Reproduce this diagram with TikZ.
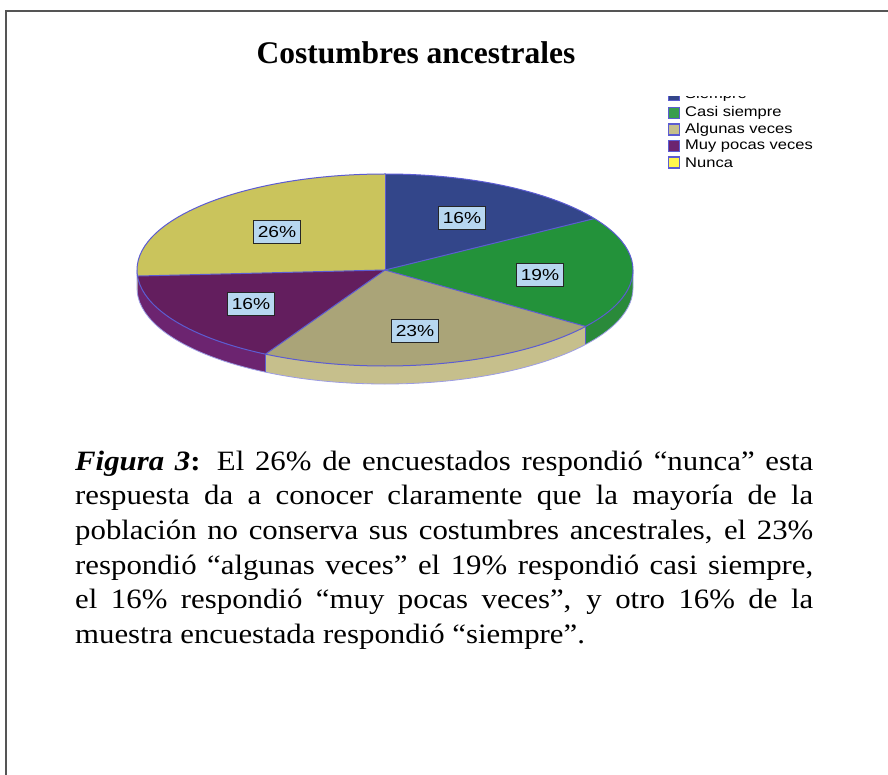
\documentclass[tikz,border=0pt]{standalone}
\usepackage{fontspec}
\setmainfont{Liberation Serif}
\newfontfamily\arialf{Liberation Sans}
\usetikzlibrary{calc}
\definecolor{cBlue}{HTML}{33468A}
\definecolor{cGreen}{HTML}{23923A}
\definecolor{cGreenS}{HTML}{2A8A3A}
\definecolor{cTan}{HTML}{AAA478}
\definecolor{cTanS}{HTML}{C6BF8C}
\definecolor{cPurple}{HTML}{631E5E}
\definecolor{cPurpleS}{HTML}{6C2470}
\definecolor{cYellow}{HTML}{CAC45C}
\definecolor{cYellowS}{HTML}{B8B250}
\definecolor{cEdge}{HTML}{5C5CD2}
\definecolor{cLabel}{HTML}{B7D7F0}
\definecolor{cFrame}{HTML}{555555}
\newcommand\capline[1]{\scalebox{1.1}[1]{\makebox[671pt][s]{#1}}}
\newcommand\pct[1]{\scalebox{1.2}[1]{#1}}
\newcommand\legt[1]{\scalebox{1.18}[1]{#1}}
\begin{document}
\begin{tikzpicture}[x=1pt,y=1pt,
  pctlabel/.style={draw=black!85,line width=1.3pt,fill=cLabel,font=\arialf\fontsize{16}{16}\selectfont,minimum width=47pt,minimum height=23pt,inner sep=0pt},
  legbox/.style={draw=cEdge,line width=1.1pt,minimum width=11pt,minimum height=11pt,inner sep=0pt},
  legtext/.style={anchor=west,font=\arialf\fontsize{14}{14}\selectfont,inner sep=0pt},
  capt/.style={anchor=base west,inner sep=0pt,font=\fontsize{28}{34}\selectfont},
  sliceedge/.style={draw=cEdge,line width=1pt}]
\useasboundingbox (0,0) rectangle (888,-775);
\fill[white] (0,0) rectangle (888,-775);
% frame
\draw[cFrame,line width=1.2pt] (888,-11) -- (6,-11) -- (6,-775);
% title
\node[anchor=base,inner sep=0pt,font=\bfseries\fontsize{31.5}{31.5}\selectfont] (title) at (416,-64) {Costumbres ancestrales};
% pie
\coordinate (C) at (385,-270);
% side bands
\foreach \a/\b/\c in {-180/-176.4/cYellowS, -176.4/-118.8/cPurpleS, -118.8/-36/cTanS, -36/0/cGreenS}{
  \fill[\c] ($(C)+(\a:248pt and 96pt)$) arc[start angle=\a,end angle=\b,x radius=248pt,y radius=96pt] -- ++(0,-18pt) arc[start angle=\b,end angle=\a,x radius=248pt,y radius=96pt] -- cycle;
}
\draw[cEdge!60,line width=0.8pt] ($(C)+(-180:248pt and 96pt)$) -- ++(0,-18pt) arc[start angle=-180,end angle=0,x radius=248pt,y radius=96pt] -- ++(0,18pt);
\draw[cEdge,line width=1pt] ($(C)+(-118.8:248pt and 96pt)$) -- ++(0,-18pt);
\draw[cEdge,line width=1pt] ($(C)+(-36:248pt and 96pt)$) -- ++(0,-18pt);
% top slices
\foreach \a/\b/\c in {32.4/90/cBlue, -36/32.4/cGreen, -118.8/-36/cTan, -176.4/-118.8/cPurple, 90/183.6/cYellow}{
  \fill[\c] (C) -- ($(C)+(\a:248pt and 96pt)$) arc[start angle=\a,end angle=\b,x radius=248pt,y radius=96pt] -- cycle;
}
\foreach \a in {90,32.4,-36,-118.8,-176.4}{
  \draw[sliceedge] (C) -- ($(C)+(\a:248pt and 96pt)$);
}
\draw[cEdge,line width=1pt] (C) ellipse[x radius=248pt,y radius=96pt];
% labels
\node[pctlabel] (l1) at (462,-218) {\pct{16\%}};
\node[pctlabel] (l2) at (540,-275) {\pct{19\%}};
\node[pctlabel] (l3) at (415,-331) {\pct{23\%}};
\node[pctlabel] (l4) at (251,-304) {\pct{16\%}};
\node[pctlabel] (l5) at (277,-232) {\pct{26\%}};
% legend
\begin{scope}
\clip (650,-97) rectangle (888,-180);
\node[legbox,fill=cBlue] (k1) at (674,-95) {};
\node[legtext] (t1) at (685,-95) {\legt{Siempre}};
\end{scope}
\node[legbox,fill=cGreen!90!white] (k2) at (674,-113) {};
\node[legtext] (t2) at (685,-113) {\legt{Casi siempre}};
\node[legbox,fill=cTanS] (k3) at (674,-129.5) {};
\node[legtext] (t3) at (685,-129.5) {\legt{Algunas veces}};
\node[legbox,fill=cPurpleS] (k4) at (674,-146) {};
\node[legtext] (t4) at (685,-146) {\legt{Muy pocas veces}};
\node[legbox,fill=yellow!70!white] (k5) at (674,-162.5) {};
\node[legtext] (t5) at (685,-162.5) {\legt{Nunca}};
% caption
\node[capt] (c1) at (75,-470) {\capline{\textbf{\textit{Figura 3}:} El 26\% de encuestados respondió “nunca” esta}};
\node[capt] (c2) at (75,-504.7) {\capline{respuesta da a conocer claramente que la mayoría de la}};
\node[capt] (c3) at (75,-539.4) {\capline{población no conserva sus costumbres ancestrales, el 23\%}};
\node[capt] (c4) at (75,-574.1) {\capline{respondió “algunas veces” el 19\% respondió casi siempre,}};
\node[capt] (c5) at (75,-608.8) {\capline{el 16\% respondió “muy pocas veces”, y otro 16\% de la}};
\node[capt] (c6) at (75,-643.5) {\scalebox{1.1}[1]{muestra encuestada respondió “siempre”.}};
\end{tikzpicture}
\end{document}
